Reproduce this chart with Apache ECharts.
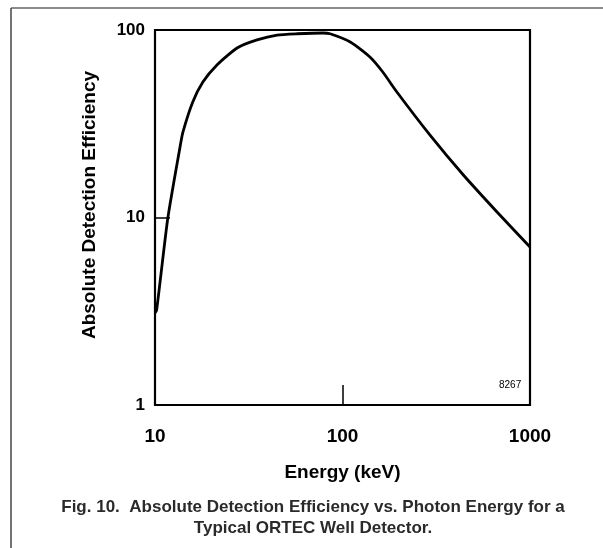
<!DOCTYPE html>
<html>
<head>
<meta charset="utf-8">
<script src="https://cdn.jsdelivr.net/npm/echarts@6/dist/echarts.min.js"></script>
<style>html,body{margin:0;padding:0;background:#fff}#c{width:603px;height:548px}</style>
</head>
<body>
<div id="c"></div>
<script>
// Energy (keV)
var energy = [10, 10.2, 11.7, 13.6, 14.1, 15.9, 18.0, 21.4, 27.4, 35.0, 44.8, 57.2, 78.7, 85.8, 110, 140, 164, 195, 293, 440, 667, 1000];
// Absolute detection efficiency (%)
var efficiency = [3.1, 3.2, 9.9, 23.8, 28.6, 41.3, 52.8, 65.1, 80.2, 88.5, 94.0, 95.5, 96.4, 95.5, 86.3, 71.8, 59.7, 46.7, 27.5, 16.9, 10.7, 6.96];
var xTicks = [10, 100, 1000];
var yTicks = [1, 10, 100];
var xTitle = 'Energy (keV)';
var yTitle = 'Absolute Detection Efficiency';
var caption = 'Fig. 10.  Absolute Detection Efficiency vs. Photon Energy for a\nTypical ORTEC Well Detector.';
var figId = '8267';

var pts = energy.map(function (e, i) { return [e, efficiency[i]]; });
var font = '"Liberation Sans", Arial, Helvetica, sans-serif';
var chart = echarts.init(document.getElementById('c'));
chart.setOption({
  animation: false,
  backgroundColor: '#fff',
  grid: { left: 155, right: 73, top: 30, bottom: 143, show: true, borderColor: '#000', borderWidth: 2.2, backgroundColor: 'transparent' },
  xAxis: {
    type: 'log', logBase: 10, min: 10, max: 1000,
    name: xTitle, nameLocation: 'middle', nameGap: 58,
    nameTextStyle: { fontFamily: font, fontWeight: 'bold', fontSize: 19, color: '#000' },
    axisLine: { show: false },
    axisTick: { show: true, inside: true, length: 20, lineStyle: { color: '#000', width: 1.5 } },
    minorTick: { show: false },
    splitLine: { show: false },
    axisLabel: { margin: 22, fontFamily: font, fontWeight: 'bold', fontSize: 19, color: '#000',
      formatter: function (v) { return xTicks.indexOf(Math.round(v)) >= 0 ? String(Math.round(v)) : ''; } }
  },
  yAxis: {
    type: 'log', logBase: 10, min: 1, max: 100,
    axisLine: { show: false },
    axisTick: { show: true, inside: true, length: 15, lineStyle: { color: '#000', width: 1.5 } },
    splitLine: { show: false },
    axisLabel: { margin: 10, fontFamily: font, fontWeight: 'bold', fontSize: 17, color: '#000',
      formatter: function (v) { return yTicks.indexOf(Math.round(v)) >= 0 ? String(Math.round(v)) : ''; } }
  },
  series: [{
    type: 'line', data: pts, showSymbol: false, smooth: 0.2,
    lineStyle: { color: '#000', width: 2.8 }
  }],
  graphic: [
    { type: 'line', shape: { x1: 11, y1: 8, x2: 603, y2: 8 }, style: { stroke: '#666', lineWidth: 1.5 } },
    { type: 'line', shape: { x1: 11, y1: 8, x2: 11, y2: 548 }, style: { stroke: '#444', lineWidth: 1.5 } },
    { type: 'text', x: 90, y: 205, rotation: Math.PI / 2, style: { text: yTitle, font: 'bold 19px ' + font, fill: '#000', textAlign: 'center', textVerticalAlign: 'middle' } },
    { type: 'text', x: 499, y: 385, style: { text: figId, font: '10px ' + font, fill: '#000', textAlign: 'left', textVerticalAlign: 'middle' } },
    { type: 'text', x: 313, y: 518, style: { text: caption, font: 'bold 17px ' + font, fill: '#2a2a2a', textAlign: 'center', textVerticalAlign: 'middle', lineHeight: 21 } }
  ]
});
</script>
</body>
</html>
